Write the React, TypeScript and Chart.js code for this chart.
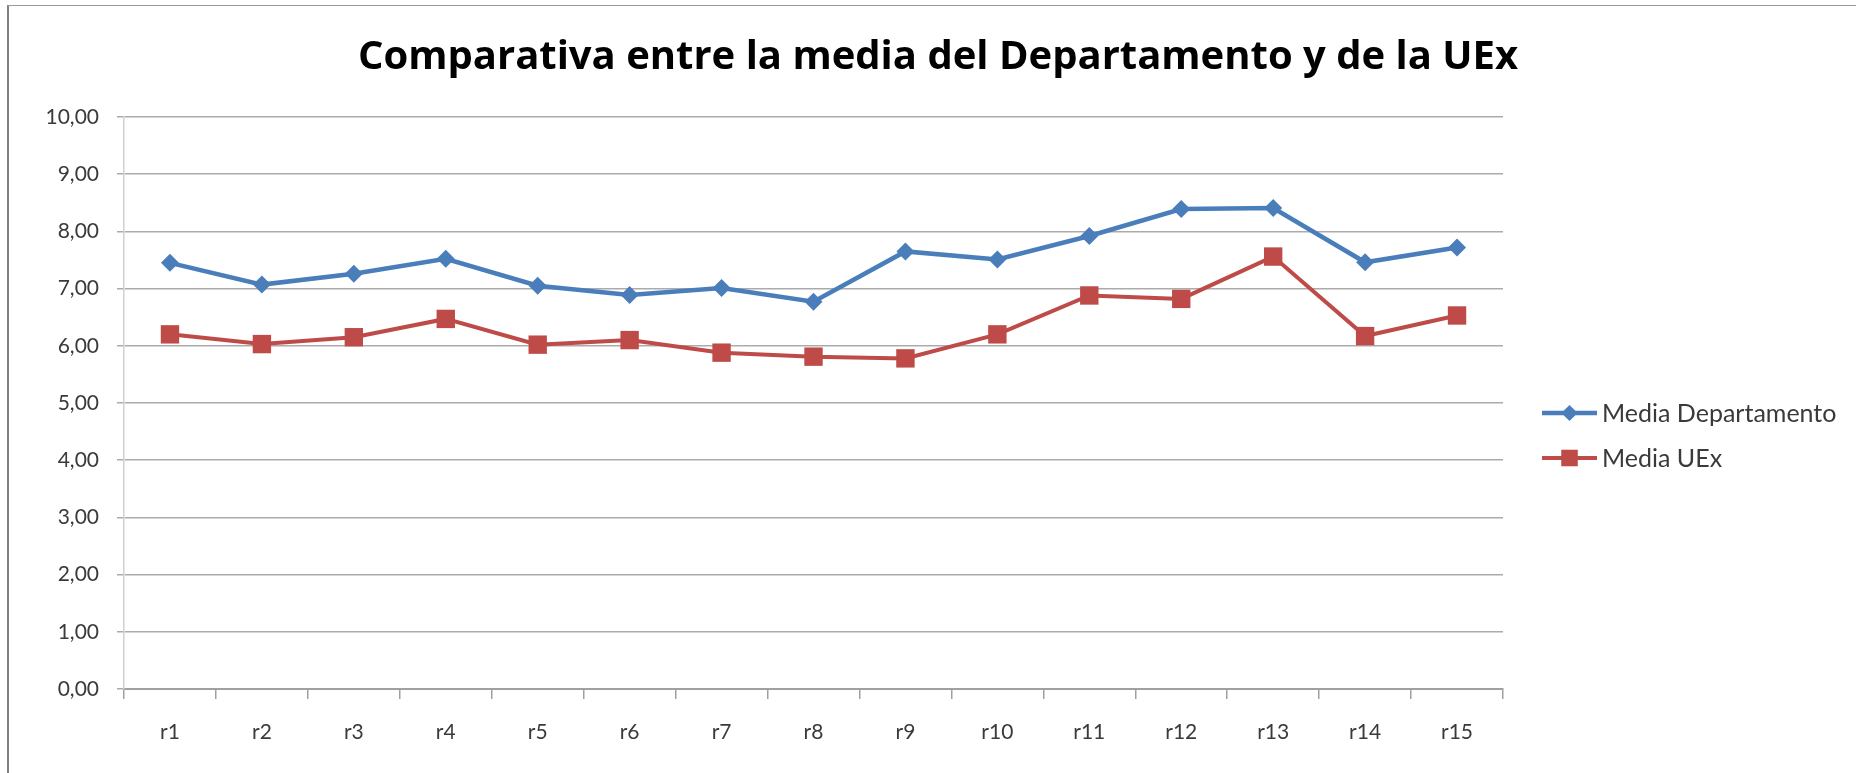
import React, { useEffect, useRef } from 'react';
import { Chart, registerables } from 'chart.js';

Chart.register(...registerables);

// ---- data ----
const categories = ['r1', 'r2', 'r3', 'r4', 'r5', 'r6', 'r7', 'r8', 'r9', 'r10', 'r11', 'r12', 'r13', 'r14', 'r15'];
const mediaDepartamento = [7.45, 7.07, 7.26, 7.52, 7.05, 6.89, 7.01, 6.77, 7.65, 7.51, 7.92, 8.39, 8.41, 7.46, 7.72];
const mediaUEx = [6.2, 6.03, 6.15, 6.47, 6.02, 6.1, 5.88, 5.81, 5.78, 6.2, 6.88, 6.82, 7.56, 6.17, 6.53];
const seriesNames = ['Media Departamento', 'Media UEx'];
const titleText = 'Comparativa entre la media del Departamento y de la UEx';
const yMin = 0;
const yMax = 10;
const yStep = 1;

// ---- styles ----
const BLUE = '#4A7EBB';
const RED = '#BE4B48';
const FONT = 'Lato, "Open Sans", sans-serif';
const TITLE_FONT = '"Open Sans", Lato, sans-serif';
const TEXT = '#3a3a3a';

const fmt = (v: number | string) => Number(v).toFixed(2).replace('.', ',');

function drawMarker(ctx: CanvasRenderingContext2D, style: string, x: number, y: number, r: number, color: string) {
  ctx.fillStyle = color;
  ctx.beginPath();
  if (style === 'rectRot') {
    ctx.moveTo(x, y - r);
    ctx.lineTo(x + r, y);
    ctx.lineTo(x, y + r);
    ctx.lineTo(x - r, y);
    ctx.closePath();
  } else {
    const h = Math.SQRT1_2 * r;
    ctx.rect(x - h, y - h, 2 * h, 2 * h);
  }
  ctx.fill();
}

const legendPlugin = {
  id: 'excelLegend',
  afterDraw(chart: any) {
    const ctx: CanvasRenderingContext2D = chart.ctx;
    const area = chart.chartArea;
    const x0 = area.right + 39;
    const lineLen = 55;
    const y0 = 413;
    const gap = 45;
    chart.data.datasets.forEach((ds: any, i: number) => {
      const y = y0 + i * gap;
      ctx.save();
      ctx.strokeStyle = ds.borderColor;
      ctx.lineWidth = ds.borderWidth;
      ctx.beginPath();
      ctx.moveTo(x0, y);
      ctx.lineTo(x0 + lineLen, y);
      ctx.stroke();
      drawMarker(ctx, ds.pointStyle, x0 + lineLen / 2, y, ds.pointRadius * 0.9, ds.backgroundColor);
      ctx.font = `25px ${FONT}`;
      ctx.fillStyle = TEXT;
      ctx.textBaseline = 'middle';
      ctx.textAlign = 'left';
      ctx.fillText(ds.label, x0 + lineLen + 5, y + 1);
      ctx.restore();
    });
  },
};

export default function App() {
  const canvasRef = useRef<HTMLCanvasElement | null>(null);

  useEffect(() => {
    document.body.style.margin = '0';
    const canvas = canvasRef.current;
    if (!canvas) return;
    const chart = new Chart(canvas, {
      type: 'line',
      data: {
        labels: categories,
        datasets: [
          {
            label: seriesNames[0],
            data: mediaDepartamento,
            borderColor: BLUE,
            backgroundColor: BLUE,
            borderWidth: 4.5,
            pointStyle: 'rectRot',
            pointRadius: 9,
            pointBorderWidth: 0,
            pointBackgroundColor: BLUE,
            tension: 0,
          },
          {
            label: seriesNames[1],
            data: mediaUEx,
            borderColor: RED,
            backgroundColor: RED,
            borderWidth: 4,
            pointStyle: 'rect',
            pointRadius: 13,
            pointBorderWidth: 0,
            pointBackgroundColor: RED,
            tension: 0,
          },
        ],
      },
      options: {
        responsive: false,
        animation: false,
        devicePixelRatio: 1,
        layout: { padding: { left: 20, right: 0, top: 0, bottom: 0 } },
        plugins: {
          legend: { display: false },
          tooltip: { enabled: false },
          title: {
            display: true,
            text: titleText,
            color: '#000',
            font: { family: TITLE_FONT, size: 40, weight: 'bold' },
            padding: { top: 34, bottom: 35 },
          },
        },
        scales: {
          x: {
            offset: true,
            grid: { offset: true, drawOnChartArea: false, drawTicks: true, tickLength: 10, color: '#a0a0a0', lineWidth: 1.5 },
            border: { color: '#a0a0a0', width: 2 },
            ticks: { font: { family: FONT, size: 21 }, color: TEXT, padding: 21, maxRotation: 0, autoSkip: false },
            afterFit: (s: any) => { s.height = 84; },
          },
          y: {
            min: yMin,
            max: yMax,
            ticks: { stepSize: yStep, callback: (v: any) => fmt(v), font: { family: FONT, size: 21 }, color: TEXT, padding: 18 },
            grid: { color: '#ababab', lineWidth: 1.5, tickLength: 7 },
            border: { color: '#d0d0d0', width: 1.5 },
            afterFit: (s: any) => { s.width = 104; },
          },
          yRight: {
            position: 'right',
            display: true,
            grid: { display: false },
            ticks: { display: false },
            border: { display: false },
            afterFit: (s: any) => { s.width = 353; },
          },
        },
      },
      plugins: [legendPlugin],
    } as any);
    return () => chart.destroy();
  }, []);

  return (
    <div style={{ position: 'relative', width: 1856, height: 773, overflow: 'hidden', background: '#fff' }}>
      <canvas ref={canvasRef} width={1856} height={773} style={{ position: 'absolute', left: 0, top: 0, display: 'block' }} />
      <div
        style={{
          position: 'absolute',
          left: 7,
          top: 5,
          width: 1900,
          height: 900,
          borderLeft: '2px solid #808080',
          borderTop: '1px solid #9a9a9a',
          pointerEvents: 'none',
        }}
      />
    </div>
  );
}
